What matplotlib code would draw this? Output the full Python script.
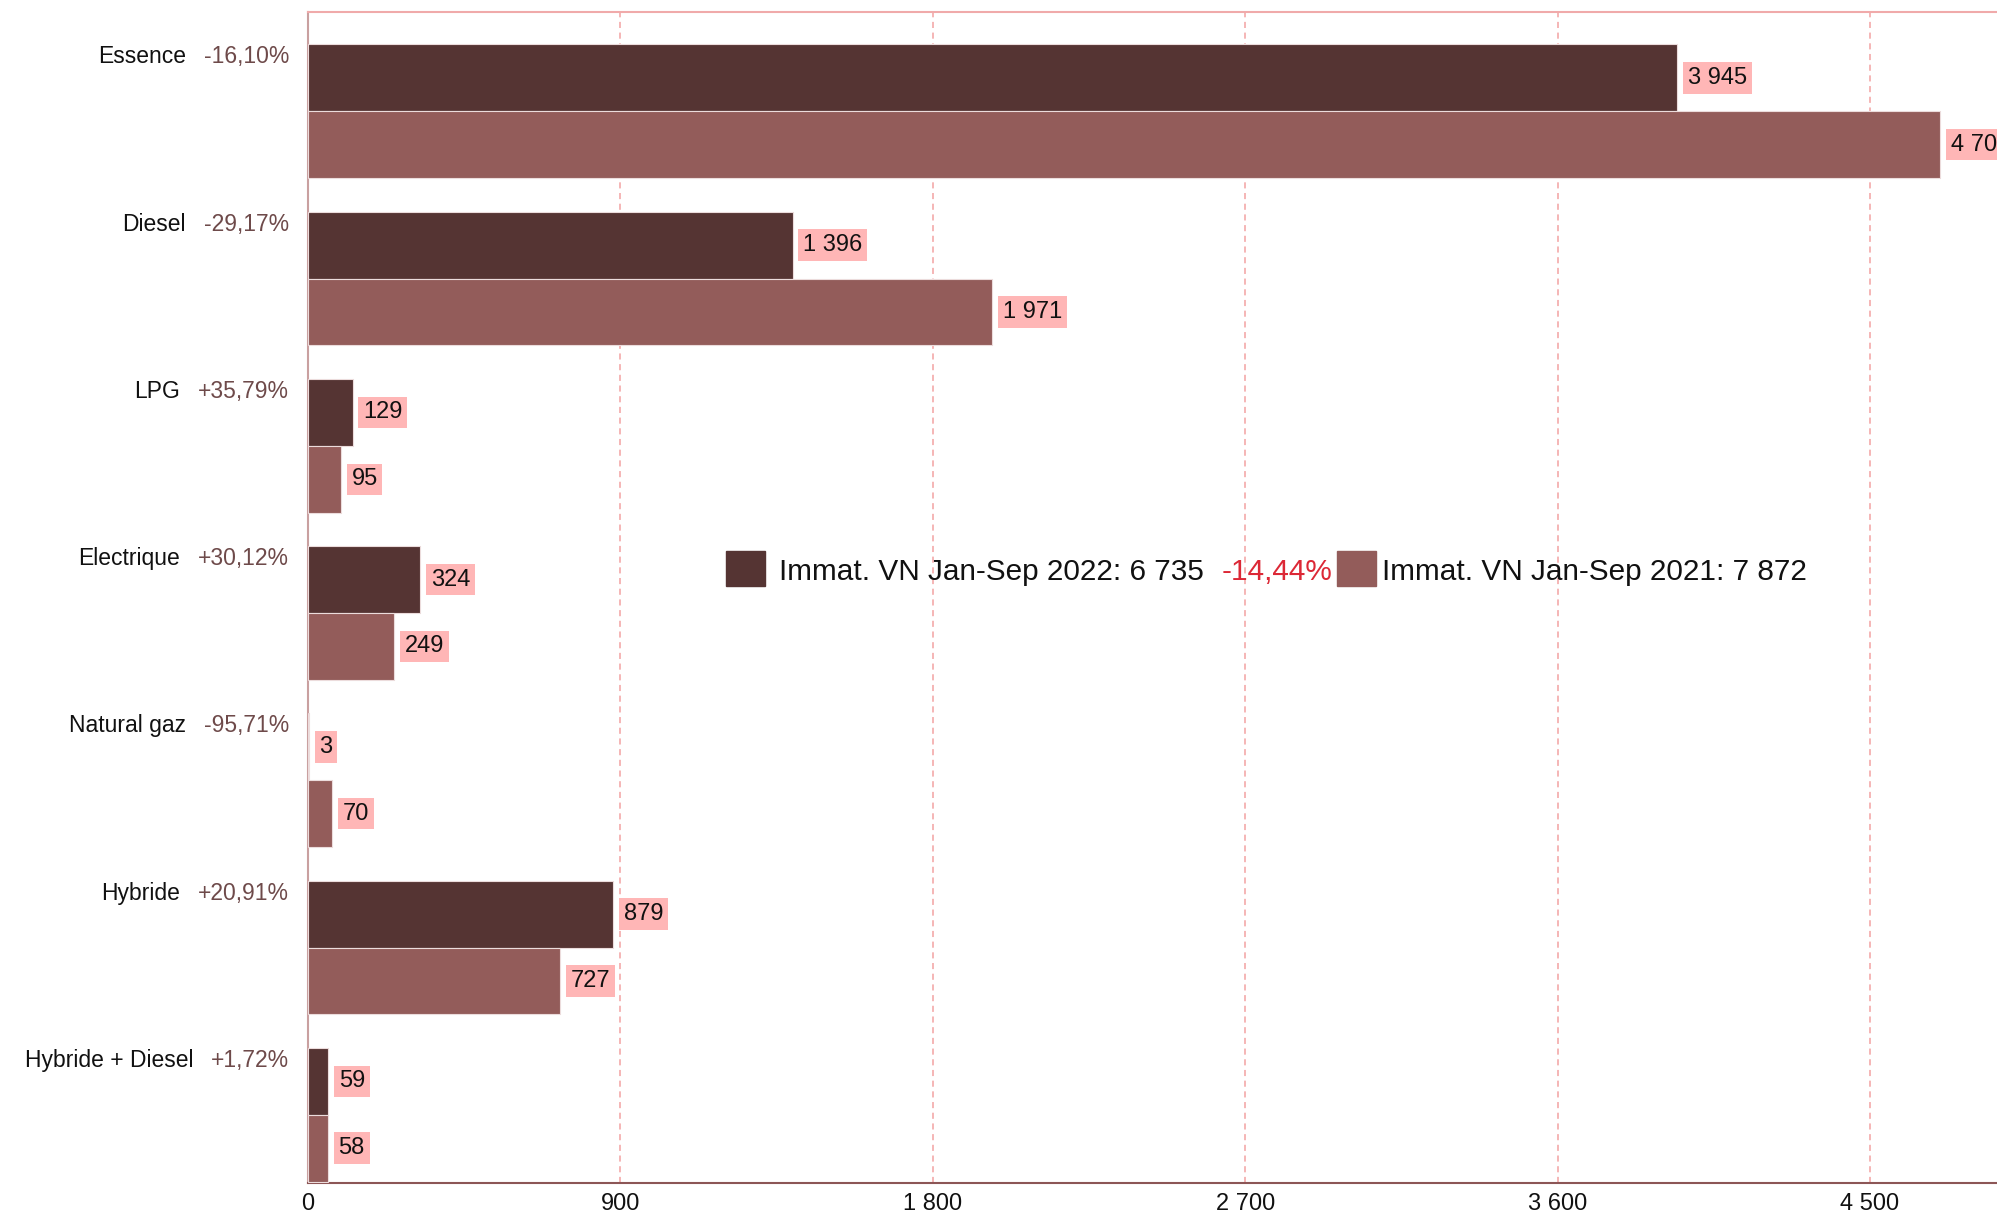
import matplotlib
matplotlib.use("Agg")
import matplotlib.pyplot as plt
from matplotlib.patches import Rectangle
import numpy as np

plt.rcParams['font.family'] = ['Liberation Sans', 'DejaVu Sans']

categories = ["Essence", "Diesel", "LPG", "Electrique", "Natural gaz", "Hybride", "Hybride + Diesel"]
values_2022 = [3945, 1396, 129, 324, 3, 879, 59]
values_2021 = [4702, 1971, 95, 249, 70, 727, 58]
xticks = [0, 900, 1800, 2700, 3600, 4500]
series_names = ["Immat. VN Jan-Sep 2022", "Immat. VN Jan-Sep 2021"]

DARK = '#553433'
LIGHT = '#935c5a'
BOXC = '#ffb6b6'
PCTC = '#6e4a4a'
RED = '#dc2836'

W, H = 1997, 1216


def fmt_int(v):
    return f"{v:,}".replace(",", " ")


def fmt_pct(p):
    s = f"{p:+.2f}%".replace(".", ",")
    return s


fig = plt.figure(figsize=(W / 100, H / 100), dpi=100)
left_px, top_px, bottom_px = 308, 12.3, 1183
ax = fig.add_axes([left_px / W, (H - bottom_px) / H, 1 - left_px / W, (bottom_px - top_px) / H])

n = len(categories)
idx = np.arange(n)
bh = 0.4
y22 = idx + 0.192 + bh / 2
y21 = idx + 0.192 + bh + bh / 2

ax.barh(y22, values_2022, height=bh, color=DARK, edgecolor='#ecdcdc', linewidth=0.8, zorder=3)
ax.barh(y21, values_2021, height=bh, color=LIGHT, edgecolor='#ecdcdc', linewidth=0.8, zorder=3)

xmax = (W - left_px) / 312.4 * 900
ax.set_xlim(0, xmax)
ax.set_ylim(n, 0)

ax.set_xticks(xticks)
ax.set_xticklabels([fmt_int(t) for t in xticks], fontsize=17, color='#111111')
ax.set_yticks([])
ax.tick_params(axis='x', length=0, pad=7)
ax.xaxis.grid(True, linestyle=(0, (4, 3)), color='#f2a2a2', linewidth=1.1, zorder=0)
ax.set_axisbelow(True)

ax.spines['right'].set_visible(False)
ax.spines['top'].set_color('#f0aaaa')
ax.spines['top'].set_linewidth(1.5)
ax.spines['left'].set_color('#c9a0a0')
ax.spines['left'].set_linewidth(1.5)
ax.spines['bottom'].set_color('#8c5656')
ax.spines['bottom'].set_linewidth(1.5)

# value labels
for ys, vals in ((y22, values_2022), (y21, values_2021)):
    for y, v in zip(ys, vals):
        ax.annotate(fmt_int(v), xy=(v, y), xytext=(7.5, 0), textcoords='offset points',
                    ha='left', va='center', fontsize=17, color='#111111',
                    bbox=dict(boxstyle='square,pad=0.2', fc=BOXC, ec='none'),
                    annotation_clip=False, zorder=4)

# category labels with percentage change
for i, (cat, a, b) in enumerate(zip(categories, values_2022, values_2021)):
    pct = (a / b - 1) * 100
    t = ax.annotate(fmt_pct(pct), xy=(0, i + 0.305), xycoords=('axes fraction', 'data'),
                    xytext=(-13.5, 0), textcoords='offset points', ha='right', va='baseline',
                    fontsize=16.5, color=PCTC, annotation_clip=False)
    ax.annotate(cat, xy=(0, 0), xycoords=t, xytext=(-13, 0), textcoords='offset points',
                ha='right', va='bottom', fontsize=16.5, color='#111111', annotation_clip=False)

# legend
tot22 = sum(values_2022)
tot21 = sum(values_2021)
chg = (tot22 / tot21 - 1) * 100
base_y = 1 - 580 / H
fig.patches.append(Rectangle((725.7 / W, 1 - 585.7 / H), 39 / W, 35 / H, transform=fig.transFigure,
                             color=DARK, zorder=5))
fig.patches.append(Rectangle((1337 / W, 1 - 585.7 / H), 39 / W, 35 / H, transform=fig.transFigure,
                             color=LIGHT, zorder=5))
fig.text(779 / W, base_y, f"{series_names[0]}: {fmt_int(tot22)}", fontsize=21.4, color='#111111',
         ha='left', va='baseline')
fig.text(1222 / W, base_y, f"{chg:.2f}%".replace(".", ","), fontsize=21.4, color=RED,
         ha='left', va='baseline')
fig.text(1382 / W, base_y, f"{series_names[1]}: {fmt_int(tot21)}", fontsize=21.4, color='#111111',
         ha='left', va='baseline')

fig.savefig("out.png", dpi=100, facecolor='white')
